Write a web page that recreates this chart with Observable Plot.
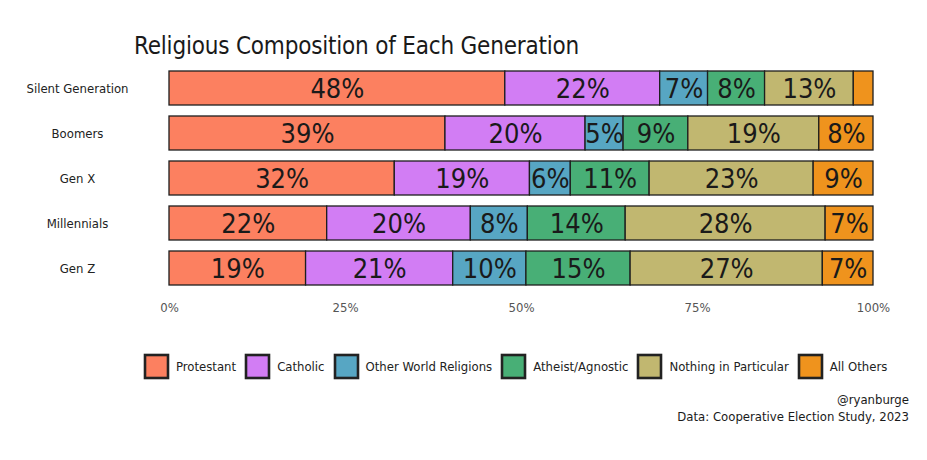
<!DOCTYPE html>
<html>
<head>
<meta charset="utf-8">
<script src="https://cdn.jsdelivr.net/npm/d3@7"></script>
<script src="https://cdn.jsdelivr.net/npm/@observablehq/plot@0.6"></script>
<style>
  body { margin: 0; background: #fff; width: 927px; height: 460px; position: relative; overflow: hidden;
         font-family: "Liberation Sans Narrow", "DejaVu Sans Condensed", "Roboto Condensed", sans-serif; }
  #title { position: absolute; left: 134px; top: 31px; font-size: 24px; letter-spacing: -0.2px; line-height: 30px; color: #1a1a1a; }
  #chart { position: absolute; left: 0; top: 0; }
  #legend { position: absolute; left: 145px; top: 350px; }
  #legend svg rect { stroke: #222; stroke-width: 2.6px; }
  #legend .lg-swatch { margin-right: 10px !important; }
  #legend .lg-swatch > svg { margin-right: 8px !important; }
  #caption { position: absolute; right: 18px; top: 391px; text-align: right; font-size: 13px; line-height: 17px; color: #1a1a1a; }
</style>
</head>
<body>
<div id="title"></div>
<div id="chart"></div>
<div id="legend"></div>
<div id="caption"></div>
<script>
const titleText = "Religious Composition of Each Generation";
const captionLines = ["@ryanburge", "Data: Cooperative Election Study, 2023"];
const generations = ["Silent Generation", "Boomers", "Gen X", "Millennials", "Gen Z"];
const categories = ["Protestant", "Catholic", "Other World Religions", "Atheist/Agnostic", "Nothing in Particular", "All Others"];
const colors = ["#FC8060", "#D27DF4", "#57A6C3", "#48AF76", "#C1B770", "#EF931D"];
// percent shares, one array per category, in generation order
const protestant = [47.7, 39.2, 32.0, 22.4, 19.4];
const catholic   = [22.0, 19.9, 19.2, 20.4, 20.9];
const otherWorld = [6.8, 5.4, 5.8, 8.1, 10.4];
const atheist    = [8.1, 9.2, 11.2, 13.9, 14.8];
const nothing    = [12.6, 18.6, 23.3, 28.4, 27.3];
const allOthers  = [2.8, 7.7, 8.5, 6.8, 7.2];
const xTicks = [0, 25, 50, 75, 100];

const series = [protestant, catholic, otherWorld, atheist, nothing, allOthers];
const data = [];
generations.forEach((g, i) => categories.forEach((c, j) => data.push({gen: g, cat: c, value: series[j][i]})));

document.getElementById("title").textContent = titleText;
document.getElementById("caption").innerHTML = captionLines.map(s => `<div>${s}</div>`).join("");

const font = '"Liberation Sans Narrow", "DejaVu Sans Condensed", "Roboto Condensed", sans-serif';

const chart = Plot.plot({
  width: 927,
  height: 328,
  marginLeft: 169,
  marginRight: 54,
  marginTop: 58.6,
  marginBottom: 30.5,
  style: {fontFamily: font, background: "transparent"},
  x: {domain: [0, 100]},
  y: {domain: generations, padding: 0.25},
  color: {domain: categories, range: colors},
  marks: [
    Plot.barX(data, Plot.stackX({x: "value", y: "gen", z: "cat", fill: "cat", order: categories, stroke: "#1e1e1e", strokeWidth: 1.3})),
    Plot.text(data.filter(d => d.value >= 3.5), Plot.stackX({x: "value", y: "gen", z: "cat", order: categories,
      text: d => Math.round(d.value) + "%", fontSize: 27, fill: "#1a1a1a", dy: 1})),
    Plot.axisX({ticks: xTicks, tickFormat: d => d + "%", tickSize: 0, tickPadding: 5, fontSize: 13, fill: "#555", label: null}),
    Plot.axisY({tickSize: 0, tickPadding: 92, textAnchor: "middle", fontSize: 13, fill: "#222", label: null})
  ]
});
document.getElementById("chart").appendChild(chart);

const legend = Plot.legend({
  color: {domain: categories, range: colors},
  className: "lg",
  swatchWidth: 23, swatchHeight: 23,
  style: {fontFamily: font, fontSize: "13px", color: "#222"}
});
document.getElementById("legend").appendChild(legend);
</script>
</body>
</html>
